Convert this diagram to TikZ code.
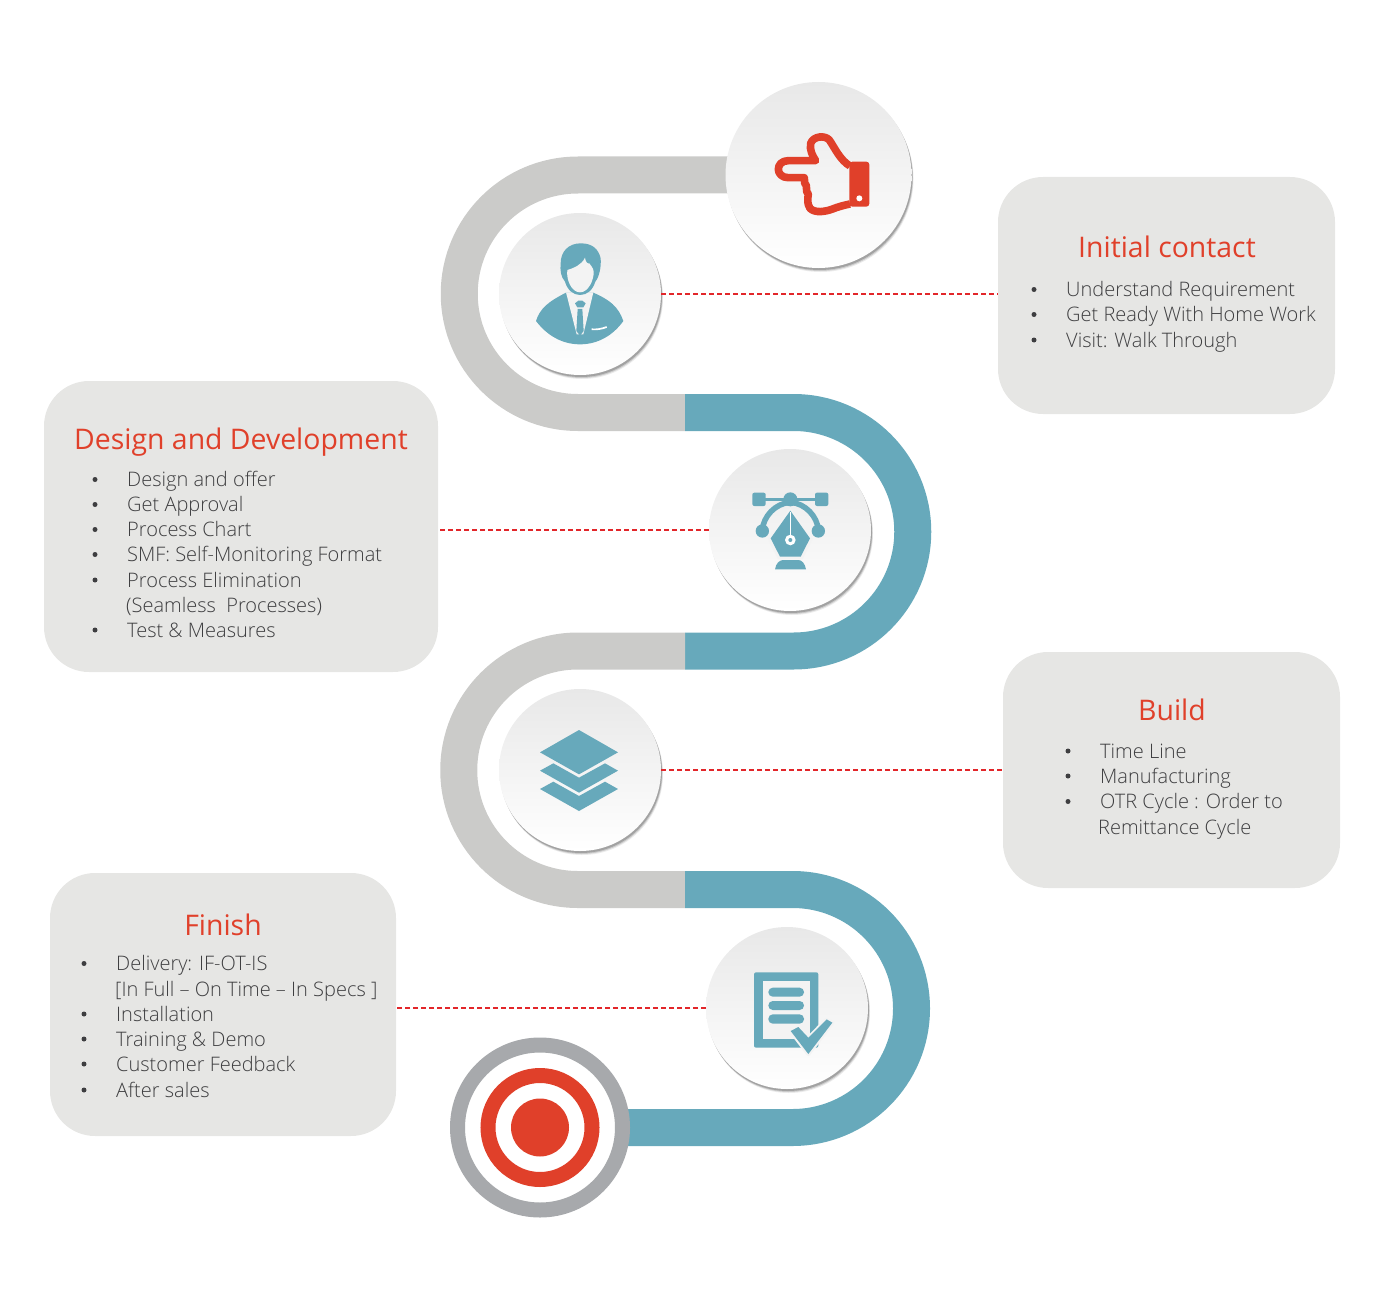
\documentclass[tikz,border=0pt]{standalone}
\usepackage{fontspec}
\setmainfont{Open Sans}[UprightFont=* Light]
\newfontfamily\headfont{Open Sans}
\usetikzlibrary{shadows}
\definecolor{trackgray}{HTML}{CBCBC9}
\definecolor{trackblue}{HTML}{67A9BB}
\definecolor{boxgray}{HTML}{E6E6E4}
\definecolor{headred}{HTML}{E0402A}
\definecolor{linkred}{HTML}{E2262A}
\definecolor{itemgray}{HTML}{3E3E40}
\definecolor{ringgray}{HTML}{A7A9AC}
\definecolor{discbg}{HTML}{F3F3F3}
\tikzset{
	infobox/.style={fill=boxgray,rounded corners=45,inner sep=0,outer sep=0},
	disc/.style={circle,inner sep=0,outer sep=0,top color=black!9,bottom color=white,
		drop shadow={shadow xshift=2pt,shadow yshift=-4pt,fill=black,opacity=.08},
		drop shadow={shadow xshift=1.5pt,shadow yshift=-3pt,fill=black,opacity=.14},
		drop shadow={shadow xshift=1pt,shadow yshift=-2pt,fill=black,opacity=.2}},
	track/.style={line width=37},
	dashline/.style={linkred,line width=1.5,dash pattern=on 5pt off 3pt},
	headtext/.style={text=headred,anchor=base,font=\headfont\fontsize{28.4}{34}\selectfont},
	itemtext/.style={text=itemgray,anchor=base west,inner sep=0,font=\fontsize{20}{25}\selectfont},
	dotmark/.style={circle,fill=itemgray,inner sep=0,minimum size=5},
}
\begin{document}
\begin{tikzpicture}[x=1pt,y=-1pt]
	\useasboundingbox (0,0) rectangle (1400,1300);
	% info boxes
	\node[infobox,minimum width=337,minimum height=237] (contact) at (1166.5,295.5) {};
	\node[infobox,minimum width=394,minimum height=291] (design) at (241,526.5) {};
	\node[infobox,minimum width=337,minimum height=236] (build) at (1171.5,770) {};
	\node[infobox,minimum width=346,minimum height=263] (finish) at (223,1004.5) {};
	% road
	\coordinate (g0) at (818.5,175);
	\coordinate (g1) at (685,412.5);
	\coordinate (g2) at (685,651);
	\coordinate (g3) at (685,889.5);
	\draw[track,trackgray] (g0) -- (578,175) arc (-90:-270:118.75) -- (g1);
	\draw[track,trackblue] (g1) -- (793.5,412.5) arc (-90:90:119.25) -- (g2);
	\draw[track,trackgray] (g2) -- (578,651) arc (-90:-270:119.25) -- (g3);
	\draw[track,trackblue] (g3) -- (792.5,889.5) arc (-90:90:119) -- (540,1127.5);
	% discs
	\node[disc,minimum size=186] (hand) at (g0) {};
	\node[disc,minimum size=162] (person) at (580,294) {};
	\node[disc,minimum size=162] (pen) at (790,530) {};
	\node[disc,minimum size=162] (layers) at (580,770) {};
	\node[disc,minimum size=162] (sheet) at (787,1008) {};
	% dashed links
	\draw[dashline] (person.east) -- (person.east -| contact.west);
	\draw[dashline] (pen.west) -- (pen.west -| design.east);
	\draw[dashline] (layers.east) -- (layers.east -| build.west);
	\draw[dashline] (sheet.west) -- (sheet.west -| finish.east);
	% target
	\node[circle,draw=ringgray,line width=15,fill=white,minimum size=165,inner sep=0] (ring) at (540,1127.5) {};
	\node[circle,draw=headred,line width=15,fill=white,minimum size=104,inner sep=0] (band) at (ring.center) {};
	\node[circle,fill=headred,minimum size=58,inner sep=0] (bull) at (ring.center) {};
	% hand icon
	\begin{scope}[shift={(770,130)},scale=1/3]
		\draw[headred,line width=7.6,line join=round,fill=none] (240,108) .. controls (210,90) and (195,55) .. (178,30)
			.. controls (165,15) and (130,18) .. (122,40) .. controls (118,60) and (128,78) .. (137,92)
			-- (55,92) .. controls (15,92) and (15,143) .. (55,143) -- (103,143) -- (104,160) -- (109,166) -- (110,185) -- (115,192)
			.. controls (112,210) and (112,222) .. (120,235) .. controls (135,250) and (165,245) .. (185,238)
			.. controls (205,230) and (225,225) .. (240,222);
		\fill[headred,rounded corners=3pt] (238,95) rectangle (298,230);
		\fill[white] (268,205) circle (9);
	\end{scope}
	% person icon
	\begin{scope}[shift={(530,235)},scale=1/3]
		\fill[trackblue] (18,258) .. controls (30,220) and (55,200) .. (108,173) -- (190,173)
			.. controls (240,195) and (265,215) .. (280,258) .. controls (250,300) and (205,328) .. (150,328)
			.. controls (95,328) and (50,300) .. (18,258) -- cycle;
		\fill[discbg] (108,172) -- (190,172) -- (160,298) -- (140,298) -- cycle;
		\fill[trackblue] (135,205) -- (145,197) -- (157,197) -- (167,205) -- (160,217) -- (142,217) -- cycle;
		\fill[trackblue] (143,222) -- (157,222) -- (161,288) -- (150,302) -- (139,288) -- cycle;
		\draw[white,line width=1.7] (185,283) .. controls (200,284) and (215,282) .. (230,276);
		\fill[trackblue] (152,25) .. controls (115,25) and (92,50) .. (92,85) .. controls (90,105) and (92,125) .. (105,140)
			.. controls (112,165) and (130,180) .. (150,180) .. controls (172,180) and (188,165) .. (196,140)
			.. controls (208,125) and (214,95) .. (212,70) .. controls (205,40) and (185,25) .. (152,25) -- cycle;
		\fill[discbg] (112,105) .. controls (130,100) and (155,90) .. (165,68) .. controls (166,78) and (172,88) .. (178,85)
			.. controls (182,92) and (190,98) .. (191,110) .. controls (192,135) and (175,172) .. (150,172)
			.. controls (125,172) and (108,135) .. (112,105) -- cycle;
	\end{scope}
	% pen icon
	\begin{scope}[shift={(700,445)},scale=1/3]
		\draw[trackblue,line width=2.5] (190,163) -- (350,163);
		\draw[trackblue,line width=5.5] (187,255) .. controls (190,215) and (225,175) .. (271,172) .. controls (317,175) and (352,215) .. (355,255);
		\fill[trackblue,rounded corners=2pt] (157,143) rectangle (197,183);
		\fill[trackblue,rounded corners=2pt] (345,143) rectangle (385,183);
		\fill[trackblue] (271,163) circle (21);
		\fill[trackblue] (187,258) circle (20);
		\fill[trackblue] (355,258) circle (20);
		\fill[discbg] (271,188) -- (203,280) -- (234,343) -- (308,343) -- (339,280) -- cycle;
		\fill[trackblue] (271,197) -- (212,280) -- (240,335) -- (302,335) -- (330,280) -- cycle;
		\draw[white,line width=1.6] (271,200) -- (271,272);
		\fill[white] (271,285) circle (16);
		\fill[trackblue] (271,285) circle (6);
		\fill[trackblue] (225,373) .. controls (228,355) and (238,345) .. (250,345) -- (295,345)
			.. controls (305,345) and (315,355) .. (318,373) -- cycle;
	\end{scope}
	% layers icon
	\begin{scope}[shift={(490,685)},scale=1/3]
		\fill[trackblue] (150,202) -- (267,135) -- (384,202) -- (267,268) -- cycle;
		\fill[trackblue] (150,257) -- (190,235) -- (267,278) -- (345,235) -- (384,257) -- (267,323) -- cycle;
		\fill[trackblue] (150,312) -- (190,290) -- (267,333) -- (345,290) -- (384,312) -- (267,378) -- cycle;
	\end{scope}
	% sheet icon
	\begin{scope}[shift={(700,925)},scale=1/3]
		\fill[trackblue,rounded corners=2pt] (162,142) rectangle (355,368);
		\fill[discbg] (188,167) rectangle (329,342);
		\foreach \i/\j in {188/215,228/255,268/296} {
			\fill[trackblue,rounded corners=4.4pt] (205,\i) rectangle (312,\j);
		}
		\draw[discbg,line width=4,fill=discbg,line join=round] (272,318) -- (295,308) -- (325,340) -- (378,285) -- (397,293) -- (325,387) -- cycle;
		\fill[trackblue] (272,318) -- (295,306) -- (325,338) -- (380,283) -- (397,293) -- (325,387) -- cycle;
	\end{scope}
	% texts
	\node[headtext] (contacthead) at (1167,258) {Initial contact};
	\node[headtext] (designhead) at (241,449) {Design and Development};
	\node[headtext] (buildhead) at (1172,720) {Build};
	\node[headtext] (finishhead) at (223,935) {Finish};
	\foreach \y/\t [count=\i] in {296.5/Understand Requirement,321.5/Get Ready With Home Work,347/Visit: Walk Through} {
		\node[itemtext] (contact\i) at (1066,\y) {\t};
		\node[dotmark] (contactdot\i) at (1034,\y-7) {};
	}
	\foreach \y/\t [count=\i] in {486.5/Design and offer,511.5/Get Approval,536.5/Process Chart,561.5/SMF: Self-Monitoring Format,587/Process Elimination,637/Test \& Measures} {
		\node[itemtext] (design\i) at (127,\y) {\t};
		\node[dotmark] (designdot\i) at (95,\y-7) {};
	}
	\node[itemtext] (designwrap) at (126,612) {(Seamless\ \ Processes)};
	\foreach \y/\t [count=\i] in {758/Time Line,783/Manufacturing,808.5/OTR Cycle : Order to} {
		\node[itemtext] (build\i) at (1100,\y) {\t};
		\node[dotmark] (builddot\i) at (1068,\y-7) {};
	}
	\node[itemtext] (buildwrap) at (1098,834) {Remittance Cycle};
	\foreach \y/\t [count=\i] in {970.5/Delivery: IF-OT-IS,1021/Installation,1046/Training \& Demo,1071/Customer Feedback,1097/After sales} {
		\node[itemtext] (finish\i) at (116,\y) {\t};
		\node[dotmark] (finishdot\i) at (84,\y-7) {};
	}
	\node[itemtext] (finishwrap) at (115,996) {[In Full – On Time – In Specs ]};
\end{tikzpicture}
\end{document}
